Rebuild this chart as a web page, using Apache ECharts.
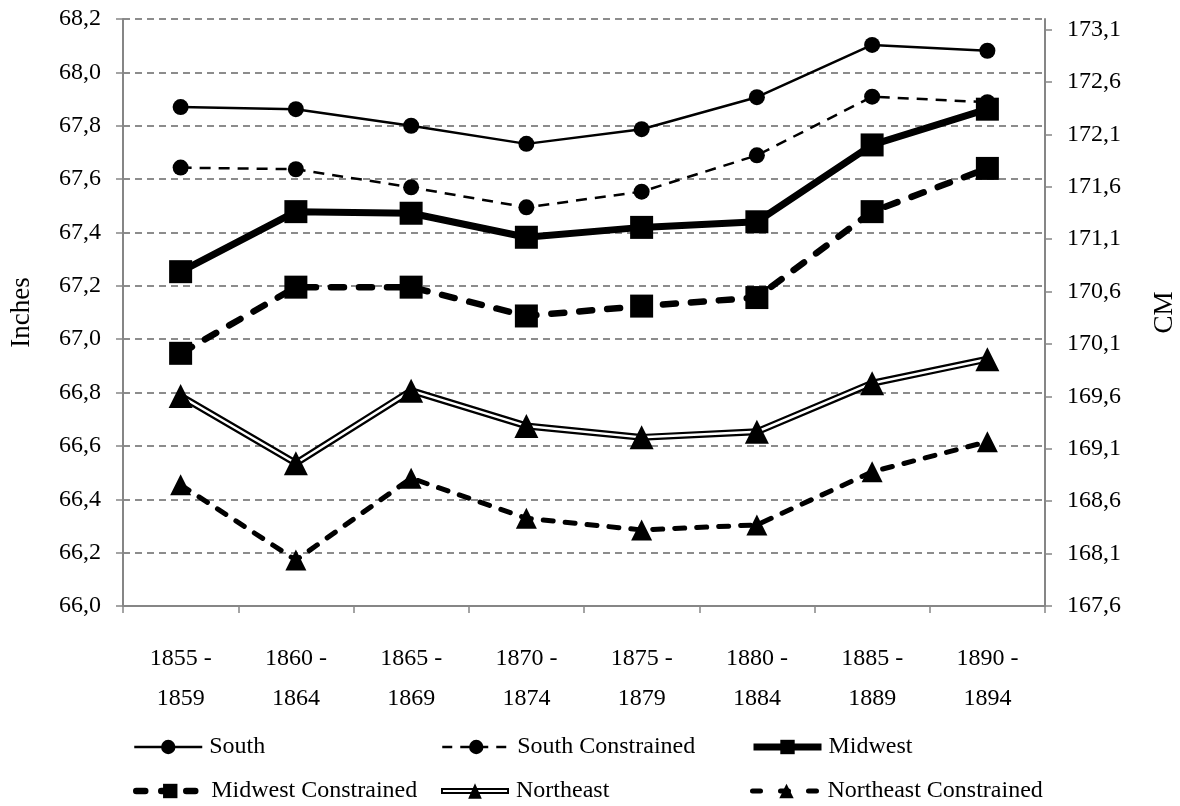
<!DOCTYPE html>
<html>
<head>
<meta charset="utf-8">
<script src="https://cdn.jsdelivr.net/npm/echarts@6/dist/echarts.min.js"></script>
<style>
  html, body { margin: 0; padding: 0; background: #fff; }
  #chart { width: 1180px; height: 806px; }
</style>
</head>
<body>
<div id="chart"></div>
<script>
// ---- data ----
const categories = ['1855 -\n1859', '1860 -\n1864', '1865 -\n1869', '1870 -\n1874',
                    '1875 -\n1879', '1880 -\n1884', '1885 -\n1889', '1890 -\n1894'];
const south                = [67.87, 67.862, 67.80, 67.732, 67.787, 67.907, 68.103, 68.081];
const southConstrained     = [67.643, 67.637, 67.569, 67.494, 67.553, 67.689, 67.909, 67.888];
const midwest              = [67.253, 67.478, 67.472, 67.382, 67.419, 67.440, 67.728, 67.862];
const midwestConstrained   = [66.947, 67.195, 67.195, 67.087, 67.124, 67.156, 67.478, 67.640];
const northeast            = [66.787, 66.535, 66.807, 66.675, 66.632, 66.653, 66.835, 66.925];
const northeastConstrained = [66.454, 66.172, 66.479, 66.329, 66.285, 66.304, 66.503, 66.616];
const inchTicks = [66.0, 66.2, 66.4, 66.6, 66.8, 67.0, 67.2, 67.4, 67.6, 67.8, 68.0, 68.2];
const cmTicks   = [167.6, 168.1, 168.6, 169.1, 169.6, 170.1, 170.6, 171.1, 171.6, 172.1, 172.6, 173.1];

const FONT = 'Liberation Serif';
const AXIS_GRAY = '#868686';
const comma = v => (Math.round(v * 10) / 10).toFixed(1).replace('.', ',');

const chart = echarts.init(document.getElementById('chart'), null, { renderer: 'canvas' });

const neIcon = 'path://M0,5 L70,5 L70,7 L0,7 Z M0,9 L70,9 L70,11 L0,11 Z M0,5 L2,5 L2,11 L0,11 Z M68,5 L70,5 L70,11 L68,11 Z M35,0 L42,16 L28,16 Z';

const styles = {
  south:   { color: '#000', width: 2.5 },
  southC:  { color: '#000', width: 2.5, type: [11, 8] },
  mid:     { color: '#000', width: 7 },
  midC:    { color: '#000', width: 6.5, type: [13, 15], cap: 'round' },
  ne:      { color: '#000', width: 7 },
  neC:     { color: '#000', width: 5, type: [10, 12], cap: 'round' }
};

function legendAt(name, left, top, ls, icon) {
  const item = { name: name };
  if (icon) item.icon = icon;
  const lg = {
    data: [item],
    left: left, top: top,
    padding: 0,
    itemWidth: 68,
    itemHeight: icon ? 16 : 18,
    selectedMode: false,
    textStyle: { fontFamily: FONT, fontSize: 24, color: '#000', padding: [0, 0, 0, 2] }
  };
  if (ls) lg.lineStyle = { width: ls.width, type: ls.type || 'solid', cap: ls.cap || 'butt', color: '#000' };
  return lg;
}

const option = {
  animation: false,
  backgroundColor: '#fff',
  textStyle: { fontFamily: FONT },
  grid: { left: 123, right: 135, top: 19, bottom: 200, containLabel: false, outerBoundsMode: 'none' },
  legend: [
    legendAt('South', 133, 735, styles.south),
    legendAt('South Constrained', 441, 735, { color: '#000', width: 2.5, type: [10, 8] }),
    legendAt('Midwest', 750, 735, styles.mid),
    legendAt('Midwest Constrained', 133, 779, { color: '#000', width: 6.5, type: [9, 16], cap: 'round' }),
    legendAt('Northeast', 441, 779, null, neIcon),
    legendAt('Northeast Constrained', 750, 779, { color: '#000', width: 5, type: [8, 20], cap: 'round' })
  ],
  xAxis: {
    type: 'category',
    data: categories,
    boundaryGap: true,
    axisLine: { show: true, lineStyle: { color: AXIS_GRAY, width: 2 } },
    axisTick: { show: true, length: 7, lineStyle: { color: AXIS_GRAY, width: 1.5 } },
    axisLabel: { fontFamily: FONT, fontSize: 24, color: '#000', lineHeight: 40, margin: 33 },
    splitLine: { show: false }
  },
  yAxis: [
    {
      type: 'value',
      min: 66.0, max: 68.2, interval: 0.2,
      position: 'left',
      name: 'Inches',
      nameLocation: 'middle',
      nameRotate: 90,
      nameGap: 88,
      nameTextStyle: { fontFamily: FONT, fontSize: 27, color: '#000' },
      axisLine: { show: true, lineStyle: { color: AXIS_GRAY, width: 2 } },
      axisTick: { show: true, length: 7, lineStyle: { color: AXIS_GRAY, width: 1.5 } },
      axisLabel: { fontFamily: FONT, fontSize: 24, color: '#000', margin: 22, formatter: comma },
      splitLine: { show: true, lineStyle: { color: '#8c8c8c', width: 2, type: [7, 5] } }
    },
    {
      type: 'value',
      min: 167.6, max: 173.2, interval: 0.5,
      position: 'right',
      name: 'CM',
      nameLocation: 'middle',
      nameRotate: 90,
      nameGap: 106,
      nameTextStyle: { fontFamily: FONT, fontSize: 27, color: '#000' },
      axisLine: { show: true, lineStyle: { color: AXIS_GRAY, width: 2 } },
      axisTick: { show: true, length: 7, customValues: cmTicks, lineStyle: { color: AXIS_GRAY, width: 1.5 } },
      axisLabel: { fontFamily: FONT, fontSize: 24, color: '#000', margin: 22, customValues: cmTicks, formatter: comma },
      splitLine: { show: false }
    }
  ],
  series: [
    {
      name: 'Northeast Constrained', type: 'line', data: northeastConstrained,
      symbol: 'triangle', symbolSize: 21,
      lineStyle: styles.neC,
      itemStyle: { color: '#000' }
    },
    {
      name: 'Northeast', type: 'line', data: northeast,
      symbol: 'triangle', symbolSize: 24, showSymbol: false,
      lineStyle: styles.ne,
      itemStyle: { color: '#000' }
    },
    {
      name: 'Northeast inner', type: 'line', data: northeast,
      symbol: 'none', silent: true,
      lineStyle: { color: '#fff', width: 2.5 }
    },
    {
      name: 'Northeast marks', type: 'line', data: northeast,
      symbol: 'triangle', symbolSize: 24, silent: true,
      lineStyle: { opacity: 0 },
      itemStyle: { color: '#000' }
    },
    {
      name: 'Midwest Constrained', type: 'line', data: midwestConstrained,
      symbol: 'rect', symbolSize: 23,
      lineStyle: styles.midC,
      itemStyle: { color: '#000' }
    },
    {
      name: 'Midwest', type: 'line', data: midwest,
      symbol: 'rect', symbolSize: 23,
      lineStyle: styles.mid,
      itemStyle: { color: '#000' }
    },
    {
      name: 'South Constrained', type: 'line', data: southConstrained,
      symbol: 'circle', symbolSize: 16,
      lineStyle: styles.southC,
      itemStyle: { color: '#000' }
    },
    {
      name: 'South', type: 'line', data: south,
      symbol: 'circle', symbolSize: 16,
      lineStyle: styles.south,
      itemStyle: { color: '#000' }
    }
  ]
};

chart.setOption(option);
</script>
</body>
</html>
